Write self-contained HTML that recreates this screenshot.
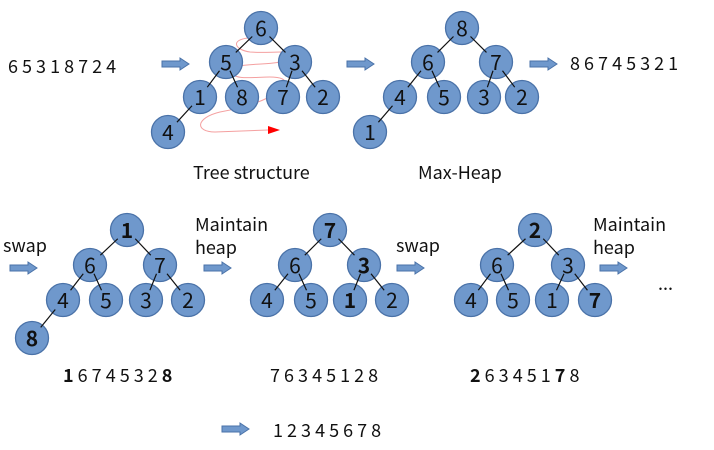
<!DOCTYPE html>
<html><head><meta charset="utf-8"><style>
html,body{margin:0;padding:0;background:#fff;width:714px;height:450px;overflow:hidden}
svg text{font-family:"Noto Sans CJK KR","Liberation Sans",sans-serif;fill:#111}
</style></head><body>
<svg id="s" width="714" height="450" viewBox="0 0 714 450" xmlns="http://www.w3.org/2000/svg">
<g id="arrows" fill="#6f98cc" stroke="#4a72a8" stroke-width="1"></g>
<path d="M248,38 C230,40 235,50 250,52 C270,54 300,48 290,58 C280,68 230,60 232,72 C234,84 275,72 284,80 C290,90 260,105 220,112 C195,118 195,132 215,132 L268,130" fill="none" stroke="#f4a0a0" stroke-width="1"/>
<polygon points="268,126 280,130 268,134" fill="#f00"/>
<g id="circles" fill="#6f98cc" stroke="#4a72a8" stroke-width="1.3"></g>
<g id="lines" stroke="#111" stroke-width="1.2"></g>
<g font-size="21" text-anchor="middle" dominant-baseline="central">
<text x="261" y="28">6</text><text x="226" y="62">5</text><text x="295" y="62">3</text><text x="200" y="97">1</text><text x="242" y="97">8</text><text x="283" y="97">7</text><text x="323" y="97">2</text><text x="168" y="132">4</text>
<text x="462" y="28">8</text><text x="428" y="62">6</text><text x="496" y="62">7</text><text x="400" y="97">4</text><text x="444" y="97">5</text><text x="484" y="97">3</text><text x="522" y="97">2</text><text x="370" y="132">1</text>
<text x="127" y="230" font-weight="bold">1</text><text x="90" y="265">6</text><text x="160" y="265">7</text><text x="63" y="300">4</text><text x="106" y="300">5</text><text x="146" y="300">3</text><text x="188" y="300">2</text><text x="32" y="338" font-weight="bold">8</text>
<text x="330" y="230" font-weight="bold">7</text><text x="295" y="265">6</text><text x="364" y="265" font-weight="bold">3</text><text x="267" y="300">4</text><text x="311" y="300">5</text><text x="350" y="300" font-weight="bold">1</text><text x="392" y="300">2</text>
<text x="535" y="230" font-weight="bold">2</text><text x="497" y="265">6</text><text x="568" y="265">3</text><text x="471" y="300">4</text><text x="513" y="300">5</text><text x="552" y="300">1</text><text x="595" y="300" font-weight="bold">7</text>
</g>
<g font-size="18">
<text x="8" y="73">6 5 3 1 8 7 2 4</text>
<text x="570" y="70">8 6 7 4 5 3 2 1</text>
<text x="193" y="179">Tree structure</text>
<text x="418" y="179">Max-Heap</text>
<text x="3" y="252">swap</text>
<text x="195" y="231">Maintain</text><text x="195" y="254">heap</text>
<text x="396" y="252">swap</text>
<text x="593" y="231">Maintain</text><text x="593" y="254">heap</text>
<text x="658" y="290">...</text>
<text x="63" y="382"><tspan font-weight="bold">1</tspan> 6 7 4 5 3 2 <tspan font-weight="bold">8</tspan></text>
<text x="270" y="382">7 6 3 4 5 1 2 8</text>
<text x="470" y="382"><tspan font-weight="bold">2</tspan> 6 3 4 5 1 <tspan font-weight="bold">7</tspan> 8</text>
<text x="273" y="437">1 2 3 4 5 6 7 8</text>
</g>
</svg>
<script>
var NS="http://www.w3.org/2000/svg";
function el(p,t,a){var e=document.createElementNS(NS,t);for(var k in a)e.setAttribute(k,a[k]);document.getElementById(p).appendChild(e);}
var trees=[
[[261,28],[226,62],[295,62],[200,97],[242,97],[283,97],[323,97],[168,132]],
[[462,28],[428,62],[496,62],[400,97],[444,97],[484,97],[522,97],[370,132]],
[[127,230],[90,265],[160,265],[63,300],[106,300],[146,300],[188,300],[32,338]],
[[330,230],[295,265],[364,265],[267,300],[311,300],[350,300],[392,300]],
[[535,230],[497,265],[568,265],[471,300],[513,300],[552,300],[595,300]]];
trees.forEach(function(t){
 t.forEach(function(p,i){el("circles","circle",{cx:p[0],cy:p[1],r:16.5});
  if(i>0){var q=t[Math.floor((i-1)/2)];var dx=p[0]-q[0],dy=p[1]-q[1];
   el("lines","line",{x1:q[0]+dx*0.25,y1:q[1]+dy*0.25,x2:q[0]+dx*0.72,y2:q[1]+dy*0.72});}
 });
});
[[162,58],[347,58],[530,58],[10,262],[204,262],[397,262],[600,262],[222,423]].forEach(function(a){
 var x=a[0],y=a[1];
 el("arrows","polygon",{points:[x,y+3,x+18,y+3,x+18,y,x+27,y+6,x+18,y+12,x+18,y+9,x,y+9].join(" ").replace(/(\d+) (\d+)/g,"$1,$2")});
});
</script>
</body></html>
